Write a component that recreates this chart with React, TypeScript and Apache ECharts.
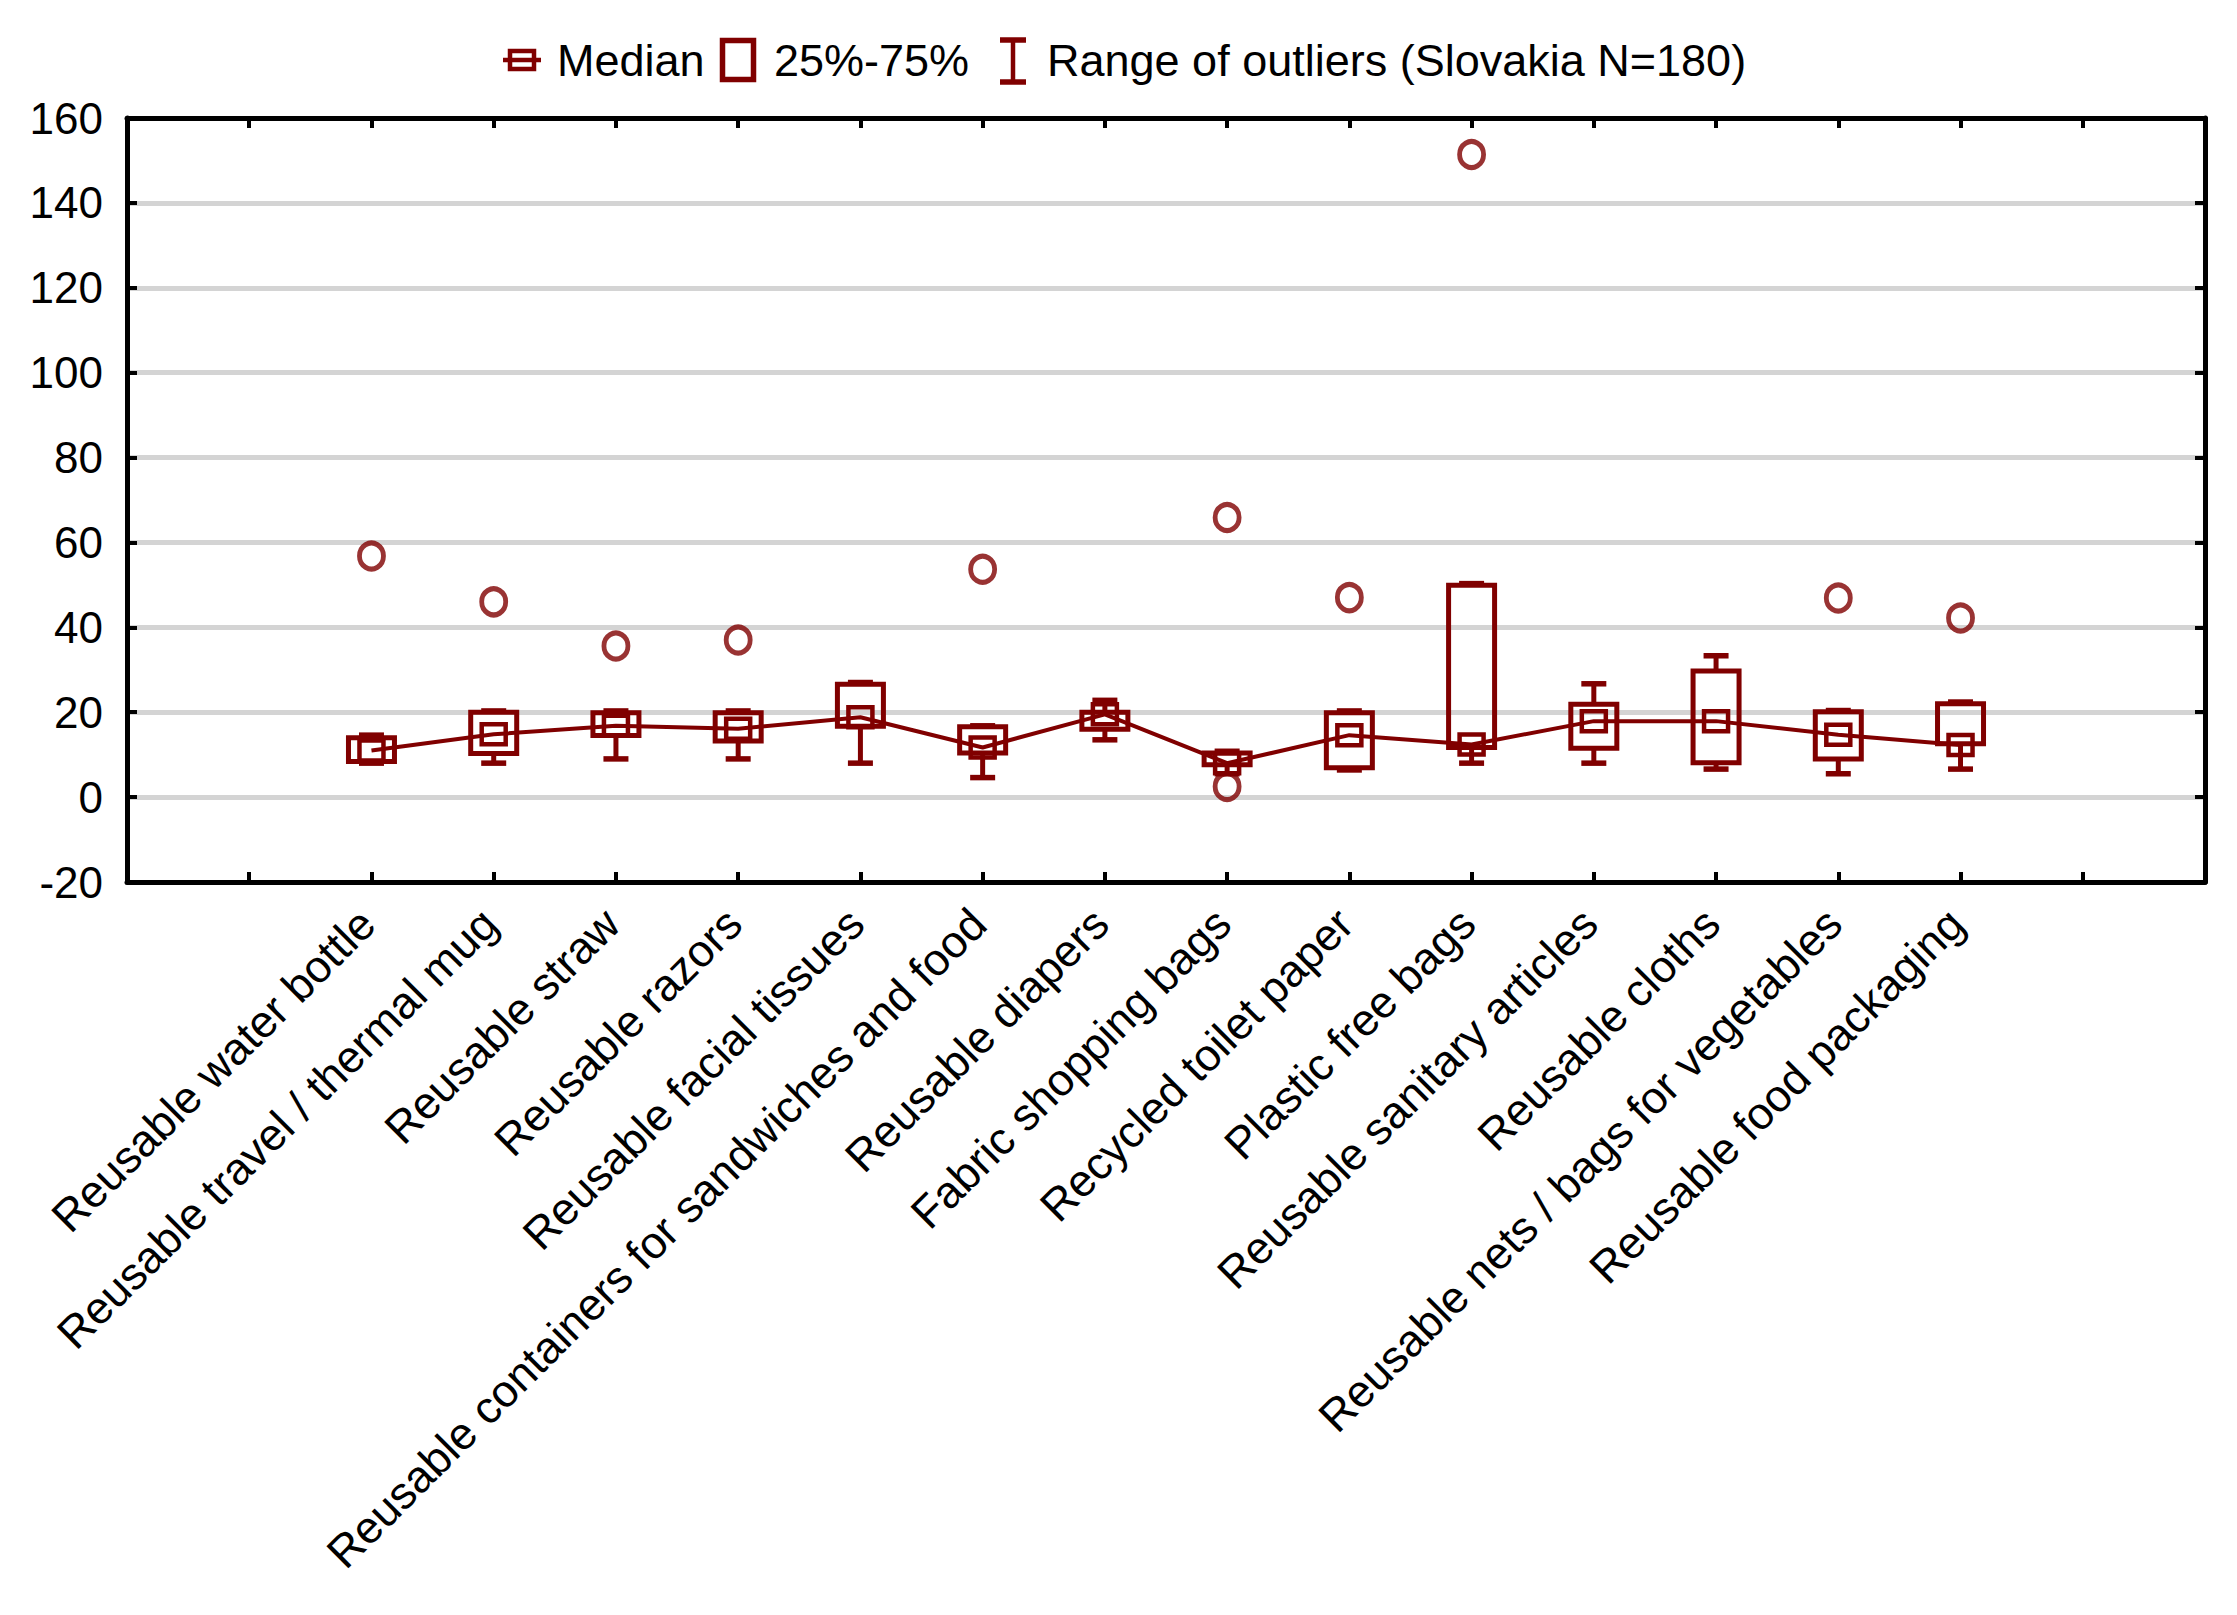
import React, { useEffect, useRef } from "react";
import * as echarts from "echarts";

const categories = [
  "Reusable water bottle",
  "Reusable travel / thermal mug",
  "Reusable straw",
  "Reusable razors",
  "Reusable facial tissues",
  "Reusable containers for sandwiches and food",
  "Reusable diapers",
  "Fabric shopping bags",
  "Recycled toilet paper",
  "Plastic free bags",
  "Reusable sanitary articles",
  "Reusable cloths",
  "Reusable nets / bags for vegetables",
  "Reusable food packaging",
];

const whiskerMin = [8, 8, 9, 9, 8, 4.6, 13.5, 5.5, 6.4, 8, 8, 6.6, 5.5, 6.6];
const q1 = [8.4, 10.3, 14.5, 13.2, 16.7, 10.4, 16, 7.6, 6.9, 11.7, 11.5, 8.1, 9, 12.6];
const median = [11, 14.8, 16.8, 16.1, 18.8, 11.7, 19.5, 8, 14.6, 12.4, 17.9, 17.9, 14.7, 12.3];
const q3 = [14, 20, 19.9, 19.9, 26.6, 16.6, 20, 10.4, 19.9, 49.9, 21.9, 29.7, 20.1, 22];
const whiskerMax = [14.6, 20.3, 20.3, 20.3, 27, 16.8, 22.8, 10.8, 20.3, 50.3, 26.7, 33.3, 20.4, 22.4];

const outlierCategory = [0, 1, 2, 3, 5, 7, 7, 8, 9, 12, 13];
const outlierValue = [56.8, 46, 35.6, 37, 53.7, 65.9, 2.5, 47, 151.4, 46.9, 42.2];

const yTicks = { min: -20, max: 160, interval: 20 };
const xOffset = 2; // first category sits at axis value 2
const xMax = 17;

const RED = "#800000";
const FONT = "'Liberation Sans', Arial, sans-serif";

export default function App() {
  const ref = useRef<HTMLDivElement>(null);

  useEffect(() => {
    if (!ref.current) return;
    const chart = echarts.init(ref.current, null, { renderer: "svg" });

    const boxData = categories.map((_, i) => [
      i + xOffset,
      whiskerMin[i],
      q1[i],
      median[i],
      q3[i],
      whiskerMax[i],
    ]);
    const medianData = categories.map((_, i) => [i + xOffset, median[i]]);
    const outlierData = outlierCategory.map((c, k) => [c + xOffset, outlierValue[k]]);

    const tickStyle = { show: true, inside: true, length: 10, lineStyle: { color: "#000", width: 4 } };
    const lineStyle = { show: true, onZero: false, lineStyle: { color: "#000", width: 5 } };

    const option: any = {
      animation: false,
      backgroundColor: "#fff",
      grid: { left: 127, right: 32, top: 118, bottom: 733, containLabel: false },
      xAxis: [
        {
          type: "value",
          min: 0,
          max: xMax,
          interval: 1,
          position: "bottom",
          axisLine: lineStyle,
          axisTick: tickStyle,
          splitLine: { show: false },
          axisLabel: {
            rotate: 45,
            fontSize: 45,
            fontFamily: FONT,
            color: "#000",
            margin: 30,
            padding: [0, 6, 0, 0],
            formatter: (v: number) => {
              const i = Math.round(v) - xOffset;
              return i >= 0 && i < categories.length ? categories[i] : "";
            },
          },
        },
        {
          type: "value",
          min: 0,
          max: xMax,
          interval: 1,
          position: "top",
          axisLine: lineStyle,
          axisTick: tickStyle,
          splitLine: { show: false },
          axisLabel: { show: false },
        },
      ],
      yAxis: [
        {
          type: "value",
          min: yTicks.min,
          max: yTicks.max,
          interval: yTicks.interval,
          position: "left",
          axisLine: lineStyle,
          axisTick: tickStyle,
          splitLine: { show: true, lineStyle: { color: "#d4d4d4", width: 5 } },
          axisLabel: { fontSize: 44, fontFamily: FONT, color: "#000", margin: 24 },
        },
        {
          type: "value",
          min: yTicks.min,
          max: yTicks.max,
          interval: yTicks.interval,
          position: "right",
          axisLine: lineStyle,
          axisTick: tickStyle,
          splitLine: { show: false },
          axisLabel: { show: false },
        },
      ],
      graphic: [
        {
          type: "group",
          children: [
            { type: "line", shape: { x1: 503, y1: 60, x2: 541, y2: 60 }, style: { stroke: RED, lineWidth: 4.5 } },
            { type: "rect", shape: { x: 510, y: 51, width: 24, height: 18 }, style: { stroke: RED, lineWidth: 4.5, fill: "#fff" } },
            { type: "line", shape: { x1: 510, y1: 60, x2: 534, y2: 60 }, style: { stroke: RED, lineWidth: 4.5 } },
            { type: "text", x: 557, y: 60, style: { text: "Median", font: `45px ${FONT}`, fill: "#000", verticalAlign: "middle" } },
            { type: "rect", shape: { x: 722.5, y: 40.5, width: 31, height: 39 }, style: { stroke: RED, lineWidth: 5.5, fill: "#fff" } },
            { type: "text", x: 774, y: 60, style: { text: "25%-75%", font: `45px ${FONT}`, fill: "#000", verticalAlign: "middle" } },
            { type: "line", shape: { x1: 1013, y1: 40, x2: 1013, y2: 82 }, style: { stroke: RED, lineWidth: 4.5 } },
            { type: "line", shape: { x1: 1000, y1: 40, x2: 1026, y2: 40 }, style: { stroke: RED, lineWidth: 5.5 } },
            { type: "line", shape: { x1: 1000, y1: 82, x2: 1026, y2: 82 }, style: { stroke: RED, lineWidth: 5.5 } },
            { type: "text", x: 1047, y: 60, style: { text: "Range of outliers (Slovakia N=180)", font: `45px ${FONT}`, fill: "#000", verticalAlign: "middle" } },
          ],
        },
      ],
      series: [
        {
          name: "Median line",
          type: "line",
          xAxisIndex: 0,
          yAxisIndex: 0,
          data: medianData,
          symbol: "none",
          lineStyle: { color: RED, width: 4 },
          z: 3,
        },
        {
          name: "25%-75%",
          type: "custom",
          xAxisIndex: 0,
          yAxisIndex: 0,
          data: boxData,
          encode: { x: 0, y: [1, 2, 3, 4, 5] },
          z: 4,
          renderItem: (params: any, api: any) => {
            const x = api.value(0);
            const pMin = api.coord([x, api.value(1)]);
            const pQ1 = api.coord([x, api.value(2)]);
            const pMed = api.coord([x, api.value(3)]);
            const pQ3 = api.coord([x, api.value(4)]);
            const pMax = api.coord([x, api.value(5)]);
            const cx = pMin[0];
            const bw = 46;
            const cw = 25;
            const mw = 24;
            const mh = 20;
            const st = { stroke: RED, lineWidth: 5, fill: "none" };
            return {
              type: "group",
              children: [
                { type: "line", shape: { x1: cx, y1: pQ1[1], x2: cx, y2: pMin[1] }, style: st },
                { type: "line", shape: { x1: cx, y1: pQ3[1], x2: cx, y2: pMax[1] }, style: st },
                { type: "line", shape: { x1: cx - cw / 2, y1: pMin[1], x2: cx + cw / 2, y2: pMin[1] }, style: { ...st, lineWidth: 5.5 } },
                { type: "line", shape: { x1: cx - cw / 2, y1: pMax[1], x2: cx + cw / 2, y2: pMax[1] }, style: { ...st, lineWidth: 5.5 } },
                { type: "rect", shape: { x: cx - bw / 2, y: pQ3[1], width: bw, height: pQ1[1] - pQ3[1] }, style: st },
                { type: "rect", shape: { x: cx - mw / 2, y: pMed[1] - mh / 2, width: mw, height: mh }, style: { ...st, lineWidth: 4.5 } },
              ],
            };
          },
        },
        {
          name: "Outliers",
          type: "scatter",
          xAxisIndex: 0,
          yAxisIndex: 0,
          data: outlierData,
          symbol: "circle",
          symbolSize: [24, 26],
          itemStyle: { color: "rgba(255,255,255,0)", borderColor: RED, borderWidth: 5 },
          z: 5,
        },
      ],
    };

    chart.setOption(option);
    return () => chart.dispose();
  }, []);

  return (
    <div
      ref={ref}
      style={{ position: "fixed", left: 0, top: 0, width: 2237, height: 1615, background: "#fff" }}
    />
  );
}
